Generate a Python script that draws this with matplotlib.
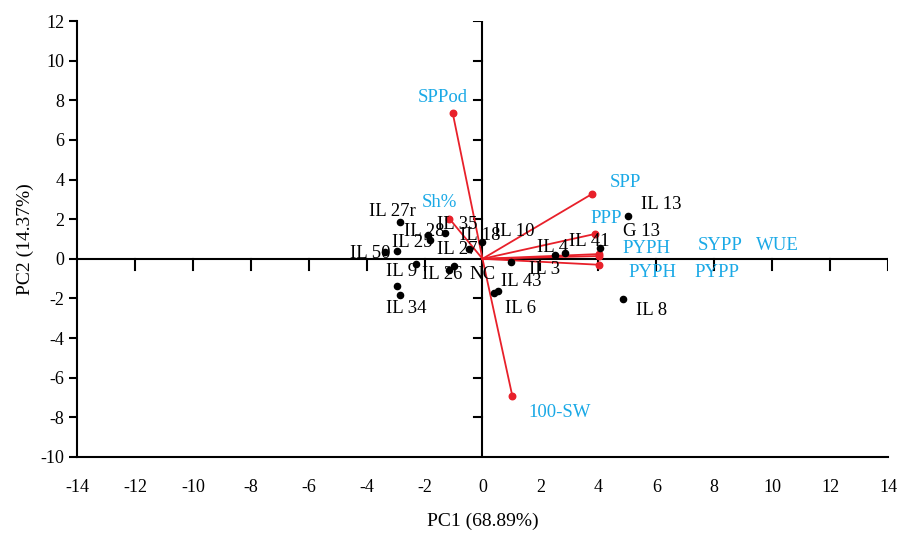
import matplotlib.pyplot as plt
import numpy as np

plt.rcParams['font.family'] = ['Liberation Serif', 'DejaVu Serif']
plt.rcParams['axes.unicode_minus'] = False

# genotype scores (PC1, PC2)
score_x = [-2.84, -1.28, -1.89, -1.80, -0.48, 0.0, -2.94, -3.38, -2.29, -0.97,
           -1.16, -2.94, -2.85, 0.41, 0.54, 0.97, 2.52, 2.86, 4.06, 5.03, 4.84]
score_y = [1.85, 1.30, 1.21, 0.93, 0.50, 0.85, 0.37, 0.32, -0.25, -0.34,
           -0.56, -1.35, -1.82, -1.73, -1.62, -0.17, 0.20, 0.29, 0.57, 2.14, -2.05]

# genotype labels and where they sit
geno_names = ['IL 27r', 'IL 35', 'IL 28', 'IL 25', 'IL 18', 'IL 10', 'IL 27',
              'IL 50', 'IL 9', 'IL 26', 'NC', 'IL 43', 'IL 3', 'IL 6', 'IL 34',
              'IL 4', 'IL 41', 'G 13', 'IL 13', 'IL 8']
geno_lx = [-3.10, -0.86, -2.00, -2.41, -0.07, 1.10, -0.86, -3.86, -2.79, -1.38,
           0.0, 1.34, 2.14, 1.31, -2.62, 2.41, 3.69, 5.48, 6.17, 5.83]
geno_ly = [2.37, 1.72, 1.36, 0.81, 1.16, 1.36, 0.45, 0.25, -0.66, -0.81,
           -0.81, -1.16, -0.56, -2.53, -2.53, 0.56, 0.86, 1.36, 2.73, -2.63]

# trait loadings (vector ends)
load_x = [-1.03, -1.14, 3.79, 3.90, 4.03, 4.03, 4.03, 1.03]
load_y = [7.37, 2.02, 3.28, 1.26, 0.24, 0.14, -0.30, -6.92]

# trait labels
trait_names = ['SPPod', 'Sh%', 'SPP', 'PPP', 'PYPH', 'PYPH', 'SYPP', 'PYPP',
               'WUE', '100-SW']
trait_lx = [-1.38, -1.48, 4.93, 4.28, 5.66, 5.86, 8.21, 8.10, 10.17, 2.66]
trait_ly = [8.13, 2.83, 3.84, 2.02, 0.50, -0.71, 0.66, -0.71, 0.66, -7.73]

red = '#e8202a'
cyan = '#1aa9e6'

fig = plt.figure(figsize=(8.97, 5.33), dpi=100)
ax = fig.add_axes([0.0858, 0.1426, 0.9042, 0.8180])
ax.set_xlim(-14, 14)
ax.set_ylim(-10, 12)

for s in ['top', 'right']:
    ax.spines[s].set_visible(False)
ax.spines['left'].set_linewidth(1.5)
ax.spines['bottom'].set_linewidth(1.5)

ax.set_xticks(np.arange(-14, 15, 2))
ax.set_yticks(np.arange(-10, 13, 2))
ax.tick_params(axis='x', length=0, pad=16, labelsize=13)
ax.tick_params(axis='y', length=6, width=1.5, direction='out', pad=3, labelsize=13)

# zero lines with their own ticks
ax.axhline(0, color='black', lw=1.5, zorder=1)
ax.axvline(0, color='black', lw=1.5, zorder=1)
tx = np.arange(-12, 15, 2)
ty = np.arange(-8, 13, 2)
tick_x = 0.3
tick_y = 0.55
for v in tx:
    if v != 0:
        ax.plot([v, v], [0, -tick_y], color='black', lw=1.5, zorder=1)
for v in ty:
    if v != 0:
        ax.plot([0, -tick_x], [v, v], color='black', lw=1.5, zorder=1)

# loading vectors
for x, y in zip(load_x, load_y):
    ax.plot([0, x], [0, y], color=red, lw=1.3, zorder=2)
ax.scatter(load_x, load_y, s=22, color=red, zorder=3)

# scores
ax.scatter(score_x, score_y, s=20, color='black', zorder=4)

for n, x, y in zip(geno_names, geno_lx, geno_ly):
    ax.text(x, y, n, fontsize=13.5, ha='center', va='center', color='black', zorder=5)
for n, x, y in zip(trait_names, trait_lx, trait_ly):
    ax.text(x, y, n, fontsize=13.5, ha='center', va='center', color=cyan, zorder=5)

ax.set_xlabel('PC1 (68.89%)', fontsize=14, labelpad=12)
ax.set_ylabel('PC2 (14.37%)', fontsize=14, labelpad=5)

fig.savefig('out.png', dpi=100)
